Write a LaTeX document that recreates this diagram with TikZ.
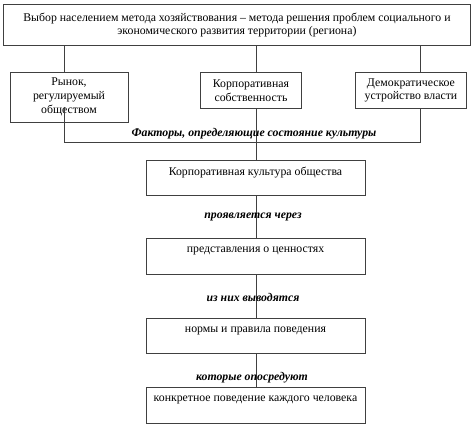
\documentclass[tikz,border=0pt]{standalone}
\usepackage{fontspec}
\setmainfont{Liberation Serif}
\begin{document}
\begin{tikzpicture}[x=1pt,y=-1pt,
  box/.style={draw=black!75,line width=0.9pt,inner sep=0pt,anchor=north west,align=center,font=\fontsize{11.8}{13.8}\selectfont},
  txt/.style={font=\fontsize{11.8}{13.8}\selectfont,align=center,inner sep=0pt},
  lbl/.style={font=\fontsize{11.8}{13}\selectfont\bfseries\itshape,inner sep=0pt},
  ln/.style={draw=black!75,line width=0.9pt}]
\useasboundingbox (0,0) rectangle (474,427);
% top
\node[box,minimum width=467pt,minimum height=41pt] (top) at (3,4) {Выбор населением метода хозяйствования – метода решения проблем социального и\\экономического развития территории (региона)};
\node[box,minimum width=118pt,minimum height=50pt] (b1) at (10,72) {};
\node[txt] (b1t) at (69,97) {Рынок,\\регулируемый\\обществом};
\node[box,minimum width=101pt,minimum height=36pt] (b2) at (200,72) {Корпоративная\\собственность};
\node[box,minimum width=111pt,minimum height=36pt] (b3) at (355,72) {Демократическое\\устройство власти};
\coordinate (bus1) at (64,142);
\coordinate (bus3) at (420,142);
\coordinate (in1) at (64,107);
\node[box,minimum width=219pt,minimum height=35pt] (c1) at (146,160) {};
\node[txt] (t1) at (255.5,173) {Корпоративная культура общества};
\node[box,minimum width=219pt,minimum height=36pt] (c2) at (146,238) {};
\node[txt] (t2) at (255.5,251) {представления о ценностях};
\node[box,minimum width=219pt,minimum height=35pt] (c3) at (146,318) {};
\node[txt] (t3) at (255.5,331) {нормы и правила поведения};
\node[box,minimum width=219pt,minimum height=36pt] (c4) at (146,387) {};
\node[txt] (t4) at (255.5,400) {конкретное поведение каждого человека};
% connectors
\draw[ln] (top.south -| in1) -- (b1.north -| in1);
\draw[ln] (top.south -| c1.north) -- (b2.north -| c1.north);
\draw[ln] (top.south -| bus3) -- (b3.north -| bus3);
\draw[ln] (in1) -- (bus1) -- (bus3) -- (b3.south -| bus3);
\draw[ln] (b2.south -| c1.north) -- (c1.north);
\draw[ln] (c1.south) -- (c2.north);
\draw[ln] (c2.south) -- (c3.north);
\draw[ln] (c3.south) -- (c4.north);
% labels
\node[lbl] (l0) at (254,134) {Факторы, определяющие состояние культуры};
\node[lbl] (l1) at (253,217) {проявляется через};
\node[lbl] (l2) at (253,297) {из них выводятся};
\node[lbl] (l3) at (252,378) {которые опосредуют};
\end{tikzpicture}
\end{document}
